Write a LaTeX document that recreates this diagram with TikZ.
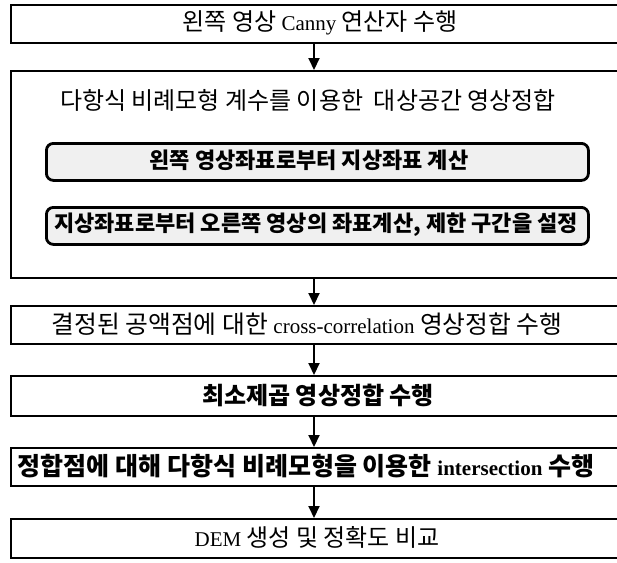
\documentclass[tikz,border=0pt]{standalone}
\usepackage{fontspec}
\setmainfont{Liberation Serif}
\newfontfamily\kr{Noto Sans CJK KR}
\usetikzlibrary{arrows.meta}
\tikzset{
  outer/.style={draw=black, line width=2.2pt, rectangle, inner sep=0pt},
  inner/.style={draw=black, line width=2.8pt, rectangle, rounded corners=7pt, fill=black!6, inner sep=0pt},
  arr/.style={line width=2pt, -{Triangle[width=11pt,length=12pt]}},
  txt/.style={font=\kr\fontsize{24}{28}\selectfont, inner sep=0pt},
  btxt/.style={font=\kr\bfseries\fontsize{22}{26}\selectfont, inner sep=0pt},
  bbtxt/.style={font=\kr\bfseries\fontsize{24}{28}\selectfont, inner sep=0pt},
}
\newcommand{\lat}[1]{{\rmfamily\fontsize{21}{24}\selectfont #1}}
\begin{document}
\begin{tikzpicture}[x=1pt,y=-1pt]
\useasboundingbox (0,0) rectangle (617,562);
% outer boxes
\node[outer, minimum width=612pt, minimum height=38pt, anchor=north west] (b1) at (10,4) {};
\node[txt] (t1) at (320,23) {왼쪽 영상 \lat{Canny} 연산자 수행};
\node[outer, minimum width=612pt, minimum height=207pt, anchor=north west] (b2) at (10,70) {};
\node[txt] (t2) at (308,100) {다항식 비례모형 계수를 이용한\ \ 대상공간 영상정합};
\node[inner, minimum width=542pt, minimum height=37pt, anchor=north west] (i1) at (45,142) {};
\node[btxt] (ti1) at (309,160.5) {왼쪽 영상좌표로부터 지상좌표 계산};
\node[inner, minimum width=542pt, minimum height=37pt, anchor=north west] (i2) at (45,206) {};
\node[btxt] (ti2) at (316,224.5) {지상좌표로부터 오른쪽 영상의 좌표계산, 제한 구간을 설정};
\node[outer, minimum width=612pt, minimum height=38pt, anchor=north west] (b3) at (10,305) {};
\node[txt, font=\kr\fontsize{24.8}{28}\selectfont] (t3) at (307,324) {결정된 공액점에 대한 \lat{cross-correlation} 영상정합 수행};
\node[outer, minimum width=612pt, minimum height=40pt, anchor=north west] (b4) at (10,375) {};
\node[bbtxt] (t4) at (318,395) {최소제곱 영상정합 수행};
\node[outer, minimum width=612pt, minimum height=38pt, anchor=north west] (b5) at (10,447) {};
\node[bbtxt,font=\kr\bfseries\fontsize{25}{28}\selectfont] (t5) at (306,466) {정합점에 대해 다항식 비례모형을 이용한 \lat{intersection} 수행};
\node[outer, minimum width=612pt, minimum height=39pt, anchor=north west] (b6) at (10,518) {};
\node[txt] (t6) at (317,537.5) {\lat{DEM} 생성 및 정확도 비교};
% arrows
\coordinate (ax) at (314,0);
\draw[arr] (b1.south -| ax) -- (b2.north -| ax);
\draw[arr] (b2.south -| ax) -- (b3.north -| ax);
\draw[arr] (b3.south -| ax) -- (b4.north -| ax);
\draw[arr] (b4.south -| ax) -- (b5.north -| ax);
\draw[arr] (b5.south -| ax) -- (b6.north -| ax);
\end{tikzpicture}
\end{document}
